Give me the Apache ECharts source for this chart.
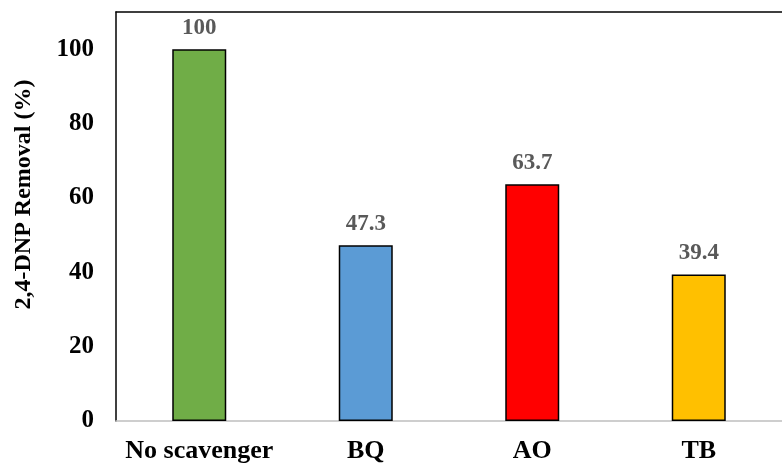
<!DOCTYPE html>
<html>
<head>
<meta charset="utf-8">
<script src="https://cdn.jsdelivr.net/npm/echarts@6/dist/echarts.min.js"></script>
<style>
html,body{margin:0;padding:0;background:#fff;}
#chart{width:782px;height:466px;}
</style>
</head>
<body>
<div id="chart"></div>
<script>
const categories = ['No scavenger', 'BQ', 'AO', 'TB'];
const removal = [100, 47.3, 63.7, 39.4];
const barColors = ['#70AD47', '#5B9BD5', '#FF0000', '#FFC000'];
const yTicks = [0, 20, 40, 60, 80, 100];

const FONT = "'Liberation Serif', 'Times New Roman', serif";
const chart = echarts.init(document.getElementById('chart'));
chart.setOption({
  animation: false,
  backgroundColor: '#fff',
  grid: { left: 116, right: -10, top: 12, bottom: 45, containLabel: false },
  xAxis: [{
    type: 'category',
    data: categories,
    axisLine: { lineStyle: { color: '#BFBFBF', width: 1.5 } },
    axisTick: { show: false },
    axisLabel: { interval: 0, fontFamily: FONT, fontWeight: 'bold', fontSize: 26, color: '#000', margin: 17 }
  }, {
    type: 'category',
    position: 'top',
    data: categories,
    axisLine: { lineStyle: { color: '#000', width: 1.5 } },
    axisTick: { show: false },
    axisLabel: { show: false }
  }],
  yAxis: {
    type: 'value',
    min: 0,
    max: 110,
    interval: 20,
    name: '2,4-DNP Removal (%)',
    nameLocation: 'middle',
    nameGap: 80,
    nameTextStyle: { fontFamily: FONT, fontWeight: 'bold', fontSize: 24, color: '#000', padding: [0, 0, 0, 44] },
    axisLine: { show: true, lineStyle: { color: '#000', width: 1.5 } },
    axisTick: { show: false },
    splitLine: { show: false },
    axisLabel: {
      fontFamily: FONT, fontWeight: 'bold', fontSize: 25, color: '#000', margin: 22,
      showMaxLabel: false,
      formatter: v => (yTicks.indexOf(v) >= 0 ? String(v) : '')
    }
  },
  series: [{
    type: 'bar',
    xAxisIndex: 0,
    barWidth: 54,
    data: removal.map((v, i) => ({ value: v, itemStyle: { color: barColors[i] } })),
    itemStyle: { borderColor: '#000', borderWidth: 1.5 },
    label: {
      show: true, position: 'top', distance: 10,
      fontFamily: FONT, fontWeight: 'bold', fontSize: 23, color: '#595959'
    }
  }]
});
</script>
</body>
</html>
